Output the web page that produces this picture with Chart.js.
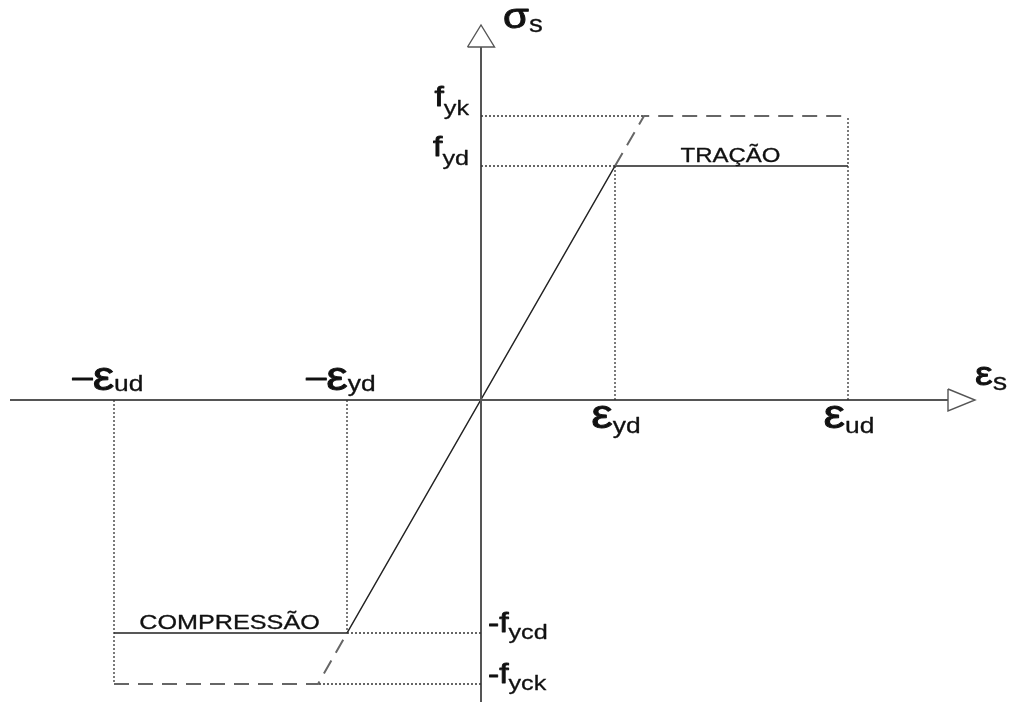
<!DOCTYPE html>
<html>
<head>
<meta charset="utf-8">
<script src="https://cdn.jsdelivr.net/npm/chart.js@4"></script>
<style>
  html, body { margin: 0; padding: 0; background: #fff; }
  #wrap { width: 1020px; height: 702px; position: relative; }
</style>
</head>
<body>
<div id="wrap"><canvas id="steelChart"></canvas></div>
<script>
// strain / stress marks (arbitrary drawing units)
const strainTicks = [-3.67, -1.34, 1.34, 3.67];
const strainTickLabels = [['–', 'ε', 'ud'], ['–', 'ε', 'yd'], ['', 'ε', 'yd'], ['', 'ε', 'ud']];
const strainTickTops = [-2.84, -2.33, 2.34, 2.84];     // where the vertical guides stop
const stressTicks = [2.84, 2.34, -2.33, -2.84];
const stressTickLabels = [['f', 'yk'], ['f', 'yd'], ['-f', 'ycd'], ['-f', 'yck']];
const stressTickEnds = [1.63, 1.34, -1.34, -1.63];      // where the horizontal guides stop

// design curve (solid)
const designStrain = [-3.67, -1.34, 1.34, 3.67];
const designStress = [-2.33, -2.33, 2.34, 2.34];

// characteristic curve (dashed)
const charStrainTop = [1.34, 1.63, 3.67];
const charStressTop = [2.34, 2.84, 2.84];
const charStrainBottom = [-3.67, -1.63, -1.34];
const charStressBottom = [-2.84, -2.84, -2.33];

// axes
const axisStrainRange = [-4.71, 4.67];
const axisStressRange = [-3.02, 3.53];

const FONT = '"Liberation Sans", Arial, sans-serif';
const STRETCH = 1.2;

function pts(xs, ys) {
    return xs.map((x, i) => ({ x: x, y: ys[i] }));
}

function lineSet(data, color, width, dash) {
    return {
        data: data,
        showLine: true,
        borderColor: color,
        backgroundColor: color,
        borderWidth: width,
        borderDash: dash || [],
        pointRadius: 0,
        tension: 0,
        fill: false
    };
}

const datasets = [];

// dotted guides
strainTicks.forEach((x, i) => {
    datasets.push(lineSet(pts([x, x], [0, strainTickTops[i]]), '#333', 1.3, [2, 2]));
});
stressTicks.forEach((y, i) => {
    datasets.push(lineSet(pts([0, stressTickEnds[i]], [y, y]), '#333', 1.3, [2, 2]));
});

// axes
datasets.push(lineSet(pts(axisStrainRange, [0, 0]), '#555', 2));
datasets.push(lineSet(pts([0, 0], axisStressRange), '#555', 2));

// arrow heads
const xEnd = axisStrainRange[1], yEnd = axisStressRange[1];
datasets.push(lineSet(pts([xEnd, xEnd + 0.27, xEnd, xEnd], [0.11, 0, -0.11, 0.11]), '#555', 1.4));
datasets.push(lineSet(pts([-0.135, 0, 0.135, -0.135], [yEnd, yEnd + 0.22, yEnd, yEnd]), '#555', 1.4));

// characteristic and design curves
datasets.push(lineSet(pts(charStrainTop, charStressTop), '#666', 2, [15, 9]));
datasets.push(lineSet(pts(charStrainBottom, charStressBottom), '#666', 2, [15, 9]));
datasets.push(lineSet(pts(designStrain, designStress), '#222', 1.5));

// text with subscripts, stretched horizontally and slightly thickened
function drawLabel(ctx, x, parts, align) {
    let w = 0;
    parts.forEach(p => {
        ctx.font = p.size + 'px ' + FONT;
        w += ctx.measureText(p.text).width;
    });
    w *= STRETCH;
    let start = x;
    if (align === 'center') start = x - w / 2;
    if (align === 'right') start = x - w;
    ctx.save();
    ctx.translate(start, 0);
    ctx.scale(STRETCH, 1);
    let cx = 0;
    parts.forEach(p => {
        ctx.font = p.size + 'px ' + FONT;
        ctx.lineWidth = p.thick || 0.3;
        ctx.fillText(p.text, cx, p.y);
        ctx.strokeText(p.text, cx, p.y);
        cx += ctx.measureText(p.text).width;
    });
    ctx.restore();
}

const labelPlugin = {
    id: 'labels',
    afterDatasetsDraw(chart) {
        const ctx = chart.ctx;
        const xs = chart.scales.x, ys = chart.scales.y;
        const x0 = xs.getPixelForValue(0), y0 = ys.getPixelForValue(0);
        ctx.save();
        ctx.fillStyle = '#111';
        ctx.strokeStyle = '#111';
        ctx.lineJoin = 'round';
        ctx.textBaseline = 'alphabetic';

        // strain labels
        strainTickLabels.forEach((lab, i) => {
            const px = xs.getPixelForValue(strainTicks[i]);
            const base = strainTicks[i] < 0 ? y0 - 10 : y0 + 28;
            const subBase = strainTicks[i] < 0 ? y0 - 9 : y0 + 33;
            const parts = [];
            if (lab[0]) parts.push({ text: lab[0], size: 30, y: base - 3, thick: 1.0 });
            parts.push({ text: lab[1], size: 40, y: base, thick: 0.9 });
            parts.push({ text: lab[2], size: 22, y: subBase });
            drawLabel(ctx, strainTicks[i] < 0 ? px - 6 : px + 1, parts, 'center');
        });

        // stress labels
        stressTickLabels.forEach((lab, i) => {
            const py = ys.getPixelForValue(stressTicks[i]);
            if (stressTicks[i] > 0) {
                drawLabel(ctx, x0 - 12, [
                    { text: lab[0], size: 28, y: py - 10, thick: 0.8 },
                    { text: lab[1], size: 21, y: py - 1 }
                ], 'right');
            } else {
                drawLabel(ctx, x0 + 7, [
                    { text: lab[0], size: 28, y: py - 1, thick: 0.8 },
                    { text: lab[1], size: 21, y: py + 6 }
                ], 'left');
            }
        });

        // axis titles
        const tipY = ys.getPixelForValue(axisStressRange[1]);
        drawLabel(ctx, x0 + 22, [
            { text: 'σ', size: 35, y: tipY - 19, thick: 0.9 },
            { text: 's', size: 23, y: tipY - 15 }
        ], 'left');
        const tipX = xs.getPixelForValue(axisStrainRange[1]);
        drawLabel(ctx, tipX + 27, [
            { text: 'ε', size: 33, y: y0 - 15, thick: 0.9 },
            { text: 's', size: 24, y: y0 - 10 }
        ], 'left');

        // region names
        const fydY = ys.getPixelForValue(designStress[3]);
        const tracX = (xs.getPixelForValue(designStrain[2]) + xs.getPixelForValue(designStrain[3])) / 2;
        drawLabel(ctx, tracX - 1, [{ text: 'TRAÇÃO', size: 20, y: fydY - 4, thick: 0.3 }], 'center');
        const fycdY = ys.getPixelForValue(designStress[0]);
        const compX = (xs.getPixelForValue(designStrain[0]) + xs.getPixelForValue(designStrain[1])) / 2;
        drawLabel(ctx, compX - 1, [{ text: 'COMPRESSÃO', size: 21, y: fycdY - 4, thick: 0.3 }], 'center');

        ctx.restore();
    }
};

new Chart(document.getElementById('steelChart'), {
    type: 'scatter',
    data: { datasets: datasets },
    options: {
        responsive: true,
        maintainAspectRatio: false,
        animation: false,
        layout: { padding: 0 },
        plugins: { legend: { display: false }, tooltip: { enabled: false } },
        scales: {
            x: { type: 'linear', min: -4.81, max: 5.39, display: false },
            y: { type: 'linear', min: -3.02, max: 4.00, display: false }
        }
    },
    plugins: [labelPlugin]
});
</script>
</body>
</html>
